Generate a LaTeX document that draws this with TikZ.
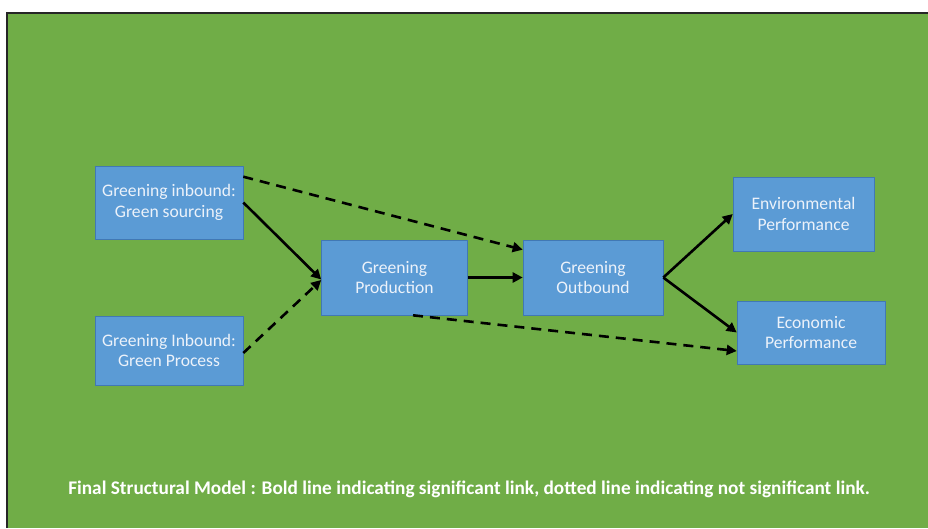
\documentclass[tikz,border=0pt]{standalone}
\usepackage{fontspec}
\setmainfont{Carlito}
\usetikzlibrary{arrows.meta,positioning}

\definecolor{slidegreen}{RGB}{112,173,71}
\definecolor{boxblue}{RGB}{91,155,213}
\definecolor{boxedge}{RGB}{65,120,180}
\definecolor{boxtext}{RGB}{236,242,250}

\begin{document}
\begin{tikzpicture}[x=1pt, y=-1pt,
  box/.style={draw=boxedge, line width=0.6pt, fill=boxblue, text=boxtext, align=center,
    inner sep=0pt, font=\fontsize{17.6}{20.5}\selectfont},
  link/.style={-{Triangle[length=10pt,width=10pt]}, line width=2.6pt, black},
  weak/.style={link, dash pattern=on 10pt off 7pt}]
\useasboundingbox (0,0) rectangle (928,528);
\fill[white] (0,0) rectangle (928,528);
\fill[slidegreen] (6,12) rectangle (928,528);
\draw[line width=2.2pt, black!85] (7,528) -- (7,13) -- (928,13);

% stages of the model
\node[box, minimum width=148pt, minimum height=73pt] (src) at (169,202.5) {Greening inbound:\\Green sourcing};
\node[box, minimum width=148pt, minimum height=69pt] (proc) at (169,350.5) {Greening Inbound:\\Green Process};
\node[box, minimum width=146pt, minimum height=75pt] (prod) at (394.5,277.5) {Greening\\Production};
\node[box, minimum width=140pt, minimum height=75pt] (out) at (593,277.5) {Greening\\Outbound};
\node[box, minimum width=141pt, minimum height=74pt] (env) at (803.5,214) {Environmental\\Performance};
\node[box, minimum width=148pt, minimum height=63pt] (eco) at (811,332.5) {Economic\\Performance};

% significant links
\draw[link] (src.east) -- ([yshift=-2pt]prod.west);
\foreach \a/\b in {prod/out, out/env, out/eco}
  \draw[link] (\a.east) -- (\b.west);

% not significant links
\draw[weak] ([yshift=-2.5pt]proc.east) -- ([yshift=-2.5pt]prod.west);
\draw[weak] ([yshift=-11pt]src.north east) -- ([yshift=-10pt]out.north west);
\draw[weak] ([xshift=18.5pt]prod.south) -- ([yshift=-18.5pt]eco.west);

\node[text=white, font=\fontsize{19.3}{22}\bfseries] (cap) at (469,489)
  {Final Structural Model : Bold line indicating significant link, dotted line indicating not significant link.};
\end{tikzpicture}
\end{document}
